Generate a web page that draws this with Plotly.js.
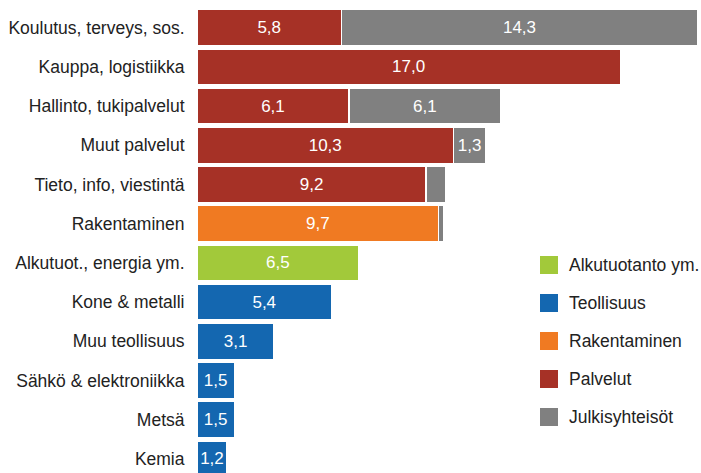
<!DOCTYPE html>
<html>
<head>
<meta charset="utf-8">
<script src="https://cdn.plot.ly/plotly-3.0.1.min.js"></script>
<style>html,body{margin:0;padding:0;background:#fff;}#chart{width:701px;height:473px;}</style>
</head>
<body>
<div id="chart"></div>
<script>
const categories = ["Koulutus, terveys, sos.", "Kauppa, logistiikka", "Hallinto, tukipalvelut", "Muut palvelut", "Tieto, info, viestintä", "Rakentaminen", "Alkutuot., energia ym.", "Kone & metalli", "Muu teollisuus", "Sähkö & elektroniikka", "Metsä", "Kemia"];
const alkutuotanto = [null, null, null, null, null, null, 6.5, null, null, null, null, null];
const teollisuus = [null, null, null, null, null, null, null, 5.4, 3.1, 1.5, 1.5, 1.2];
const rakentaminen = [null, null, null, null, null, 9.7, null, null, null, null, null, null];
const palvelut = [5.8, 17.0, 6.1, 10.3, 9.2, null, null, null, null, null, null, null];
const julkisyhteisot = [14.3, null, 6.1, 1.3, 0.8, 0.2, null, null, null, null, null, null];
const seriesNames = ["Alkutuotanto ym.", "Teollisuus", "Rakentaminen", "Palvelut", "Julkisyhteisöt"];
const seriesColors = ["#a2c93a", "#1467b0", "#f07a22", "#a63126", "#808080"];
const seriesValues = [alkutuotanto, teollisuus, rakentaminen, palvelut, julkisyhteisot];

const fmt = v => (v === null || v < 1) ? "" : v.toFixed(1).replace(".", ",");
const FONT = "Liberation Sans, Arial, sans-serif";

const traces = seriesValues.map((vals, i) => ({
  type: "bar",
  orientation: "h",
  name: seriesNames[i],
  y: categories,
  x: vals,
  text: vals.map(fmt),
  textposition: "inside",
  insidetextanchor: "middle",
  textangle: 0,
  constraintext: "none",
  textfont: {color: "#ffffff", size: 17, family: FONT},
  marker: {color: seriesColors[i], line: {color: "#ffffff", width: 1.5}},
  showlegend: false,
  hoverinfo: "none"
}));

// custom legend (larger square swatches), placed in pixel terms
const M = {l: 197, r: 0, t: 8, b: 0};
const PW = 701 - M.l - M.r, PH = 473 - M.t - M.b;
const px = x => (x - M.l) / PW;
const py = y => 1 - (y - M.t) / PH;
const legX = 540, legY0 = 265, legStep = 38, sw = 18;
const shapes = [], annotations = [];
seriesNames.forEach((name, i) => {
  const cy = legY0 + i * legStep;
  shapes.push({type: "rect", xref: "paper", yref: "paper",
    x0: px(legX), x1: px(legX + sw), y0: py(cy + sw / 2), y1: py(cy - sw / 2),
    fillcolor: seriesColors[i], line: {width: 0}});
  annotations.push({xref: "paper", yref: "paper", x: px(legX + 27), y: py(cy),
    xanchor: "left", yanchor: "middle", showarrow: false, text: name,
    font: {family: FONT, size: 17.5, color: "#222222"}});
});

const layout = {
  width: 701,
  height: 473,
  margin: M,
  paper_bgcolor: "#ffffff",
  plot_bgcolor: "#ffffff",
  barmode: "stack",
  bargap: 0.08,
  showlegend: false,
  shapes: shapes,
  annotations: annotations,
  xaxis: {range: [0, 20.24], visible: false, fixedrange: true},
  yaxis: {
    type: "category",
    range: [11.36, -0.5],
    showgrid: false, zeroline: false, showline: false,
    ticks: "outside", ticklen: 8, tickcolor: "rgba(0,0,0,0)",
    tickfont: {family: FONT, size: 17.5, color: "#222222"}
  },
  font: {family: FONT}
};

Plotly.newPlot("chart", traces, layout, {displayModeBar: false, staticPlot: true});
</script>
</body>
</html>
